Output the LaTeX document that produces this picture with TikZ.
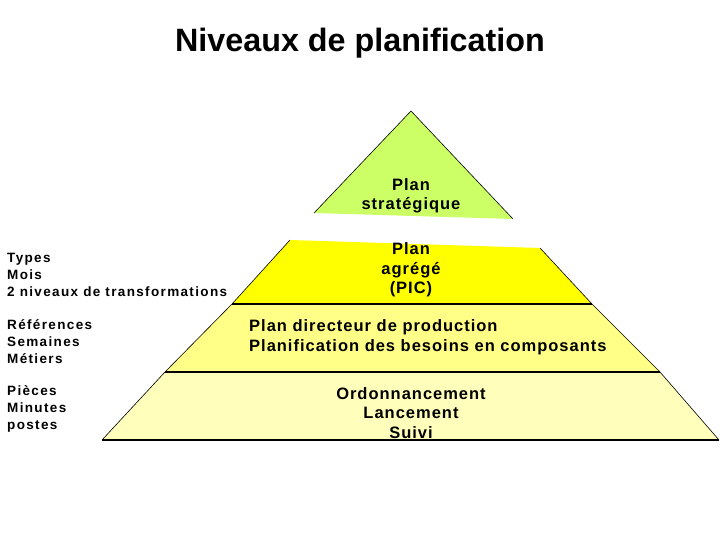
\documentclass[tikz,border=0pt]{standalone}
\usepackage{fontspec}
\setmainfont{Liberation Sans}
\newfontfamily\pyrfont[LetterSpace=6]{Liberation Sans}
\newfontfamily\leftfont[LetterSpace=10]{Liberation Sans}
\definecolor{lvlA}{HTML}{CCFF66}
\definecolor{lvlB}{HTML}{FFFF00}
\definecolor{lvlC}{HTML}{FFFF88}
\definecolor{lvlD}{HTML}{FFFFBB}
\tikzset{
  side/.style={line width=0.6pt, black},
  sep/.style={line width=1.2pt, black},
  pyrtext/.style={inner sep=0pt, align=center, font=\pyrfont\bfseries\fontsize{16.5}{19.5}\selectfont},
  lefttext/.style={inner sep=0pt, anchor=west, align=left, font=\leftfont\bfseries\fontsize{13.5}{17}\selectfont},
}
\begin{document}
\begin{tikzpicture}[x=1pt,y=-1pt]
\path[use as bounding box, fill=white] (0,0) rectangle (720,540);
% level 1
\fill[lvlA] (411,111) -- (513,219) -- (314,213) -- cycle;
\draw[side] (314,213) -- (411,111) -- (513,219);
% level 2
\fill[lvlB] (290,240) -- (540,248) -- (592,304) -- (232,304) -- cycle;
\draw[side] (290,240) -- (232,304);
\draw[side] (540,248) -- (592,304);
% level 3
\fill[lvlC] (232,304) -- (592,304) -- (660,372) -- (165,372) -- cycle;
\draw[side] (232,304) -- (165,372);
\draw[side] (592,304) -- (660,372);
% level 4
\fill[lvlD] (165,372) -- (660,372) -- (719,440) -- (102,440) -- cycle;
\draw[side] (165,372) -- (102,440);
\draw[side] (660,372) -- (719,440);
% separators
\draw[sep] (232,304) -- (592,304);
\draw[sep] (165,372) -- (660,372);
\draw[sep] (102,440) -- (719,440);
% title
\node[inner sep=0pt, font=\bfseries\fontsize{32.3}{36}\selectfont] (title) at (360,43) {Niveaux de planification};
% pyramid texts
\node[pyrtext] (strat) at (411,196) {Plan\\strat\'egique};
\node[pyrtext] (pic) at (411,270) {Plan\\agr\'eg\'e\\(PIC)};
\node[pyrtext, anchor=west, align=left] (pdp) at (249,337) {Plan directeur de production\\Planification des besoins en composants};
\node[pyrtext] (ordo) at (411,413) {Ordonnancement\\Lancement\\Suivi};
% left texts
\node[lefttext] (l1) at (7,275) {Types\\Mois\\2 niveaux de transformations};
\node[lefttext] (l2) at (7,342) {R\'ef\'erences\\Semaines\\M\'etiers};
\node[lefttext] (l3) at (7,409) {Pi\`eces\\Minutes\\postes};
\end{tikzpicture}
\end{document}
